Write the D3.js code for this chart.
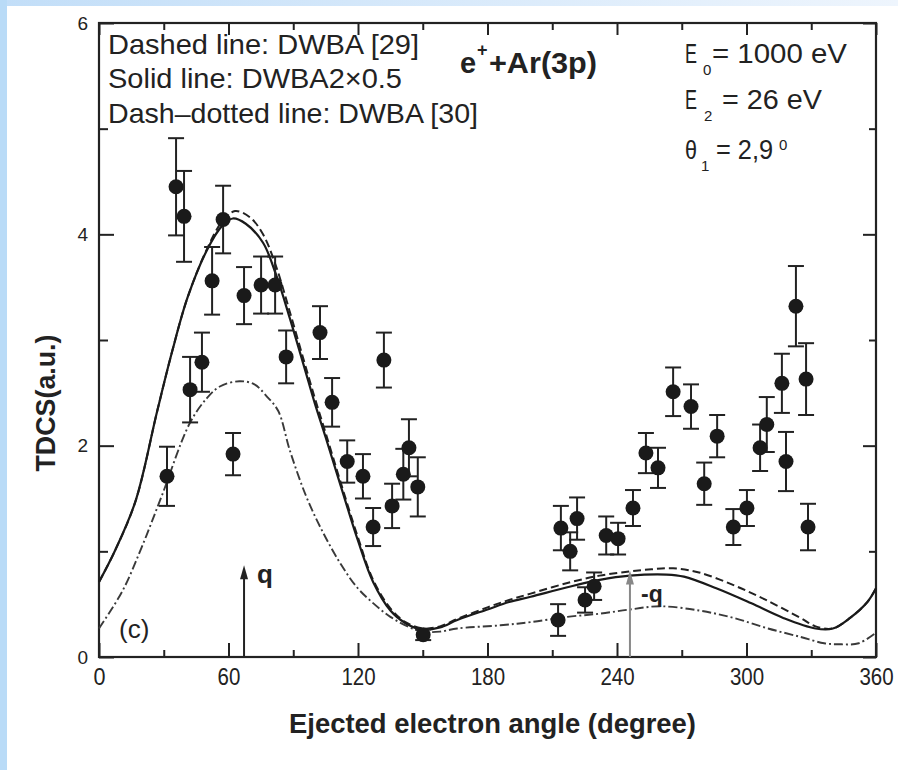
<!DOCTYPE html>
<html><head><meta charset="utf-8">
<script src="https://cdn.jsdelivr.net/npm/d3@7"></script>
<style>
html,body{margin:0;padding:0;background:#fff;}
svg{display:block;}
text{font-family:"Liberation Sans",Arial,Helvetica,sans-serif;fill:#222;}
</style></head><body>
<svg id="chart" width="898" height="770"></svg>
<script>
// Measured TDCS: ejected-electron angle (deg), value (a.u.), error bar half-width
const angles = [31.5, 35.7, 39.4, 42.2, 47.7, 52.4, 57.5, 62.1, 67.2, 75.1, 81.6, 86.7,
  102.4, 108.0, 115.0, 122.3, 127.0, 132.0, 135.8, 141.0, 143.6, 147.7, 150.2,
  212.7, 214.0, 218.3, 221.5, 225.2, 229.4, 235.0, 240.5, 247.4, 253.4, 259.0,
  266.0, 274.3, 280.4, 286.4, 293.9, 300.2, 306.3, 309.4, 316.4, 318.3, 322.9, 327.6, 328.5];
const tdcs = [1.71, 4.45, 4.17, 2.53, 2.79, 3.56, 4.14, 1.92, 3.42, 3.52, 3.52, 2.84,
  3.07, 2.41, 1.85, 1.71, 1.23, 2.81, 1.43, 1.73, 1.98, 1.61, 0.21,
  0.35, 1.22, 1.00, 1.31, 0.54, 0.67, 1.15, 1.12, 1.41, 1.93, 1.79,
  2.51, 2.37, 1.64, 2.09, 1.23, 1.41, 1.98, 2.20, 2.59, 1.85, 3.32, 2.63, 1.23];
const errors = [0.28, 0.46, 0.43, 0.31, 0.28, 0.32, 0.32, 0.20, 0.27, 0.27, 0.27, 0.25,
  0.25, 0.23, 0.20, 0.21, 0.18, 0.26, 0.21, 0.24, 0.27, 0.28, 0.05,
  0.15, 0.21, 0.18, 0.20, 0.12, 0.13, 0.18, 0.15, 0.17, 0.19, 0.19,
  0.23, 0.21, 0.20, 0.20, 0.17, 0.17, 0.22, 0.26, 0.28, 0.28, 0.38, 0.34, 0.22];

// DWBA2 x 0.5 (solid)
const solidAngles = [0, 7.5, 17, 27, 34, 41, 50, 57, 62, 68, 76, 82, 88.5, 95, 100, 105,
  112, 120, 127, 135, 142, 150, 158, 166, 180, 190, 200, 217, 232, 246, 263, 271,
  286, 302, 317, 332, 340, 348, 356, 360];
const solidValues = [0.71, 1.01, 1.48, 2.33, 2.90, 3.40, 3.85, 4.08, 4.15, 4.10, 3.92, 3.62, 3.20, 2.75, 2.40, 2.08,
  1.62, 1.10, 0.71, 0.44, 0.32, 0.26, 0.28, 0.35, 0.45, 0.52, 0.57, 0.66, 0.73, 0.77, 0.78, 0.76,
  0.65, 0.51, 0.37, 0.27, 0.27, 0.37, 0.52, 0.65];

// DWBA [29] (dashed)
const dashedAngles = [0, 7.5, 17, 27, 34, 41, 50, 57, 63, 70, 76, 82, 88.5, 95, 100, 105,
  112, 120, 127, 135, 142, 150, 158, 166, 180, 190, 200, 217, 232, 246, 256, 266, 278,
  294, 309, 325, 332, 340, 348, 356, 360];
const dashedValues = [0.71, 1.01, 1.48, 2.33, 2.90, 3.40, 3.86, 4.12, 4.22, 4.16, 4.00, 3.70, 3.26, 2.80, 2.45, 2.12,
  1.65, 1.13, 0.73, 0.46, 0.33, 0.27, 0.29, 0.36, 0.47, 0.54, 0.60, 0.70, 0.77, 0.81, 0.83, 0.84, 0.80,
  0.68, 0.54, 0.37, 0.29, 0.27, 0.37, 0.52, 0.65];

// DWBA [30] (dash-dotted)
const dashDotAngles = [0, 11, 20, 29, 42, 50, 56, 65, 72, 78, 83, 88.5, 96, 104, 112, 119.5,
  127, 135, 143, 150, 158, 166, 186, 200, 217, 232, 246, 260, 278, 294, 310, 325, 336, 344, 352, 360];
const dashDotValues = [0.27, 0.63, 1.05, 1.52, 2.21, 2.45, 2.56, 2.61, 2.58, 2.46, 2.33, 1.95, 1.52, 1.17, 0.88, 0.66,
  0.51, 0.38, 0.29, 0.24, 0.24, 0.27, 0.30, 0.33, 0.38, 0.41, 0.45, 0.48, 0.44, 0.37, 0.27, 0.19, 0.13, 0.12, 0.13, 0.23];

const xTicks = [0, 60, 120, 180, 240, 300, 360];
const xMinorTicks = [30, 90, 150, 210, 270, 330];
const yTicks = [0, 2, 4, 6];
const yMinorTicks = [1, 3, 5];

// momentum-transfer directions q and -q (deg)
const qAngle = 67.2, qHeight = 0.85;
const minusQAngle = 246, minusQHeight = 0.80;

const svg = d3.select("#chart");
const W = 898, H = 770;
const plotLeft = 99, plotRight = 876, plotTop = 23, plotBottom = 657;

// page frame: pale blue strips on the left and top edges
const defs = svg.append("defs");
const g1 = defs.append("linearGradient").attr("id", "topStrip").attr("x1", 0).attr("x2", 1).attr("y1", 0).attr("y2", 0);
g1.append("stop").attr("offset", 0).attr("stop-color", "#c2def8");
g1.append("stop").attr("offset", 1).attr("stop-color", "#eef5fd");
svg.append("rect").attr("width", W).attr("height", H).attr("fill", "#fff");
svg.append("rect").attr("x", 0).attr("y", 0).attr("width", W).attr("height", 6).attr("fill", "url(#topStrip)");
svg.append("rect").attr("x", 0).attr("y", 0).attr("width", 7).attr("height", H).attr("fill", "#b9dbf7");

const x = d3.scaleLinear().domain([0, 360]).range([plotLeft, plotRight]);
const y = d3.scaleLinear().domain([0, 6]).range([plotBottom, plotTop]);

const ink = "#222";

// axes: ticks point inward on all four sides
function styleAxis(g) {
  g.select(".domain").remove();
  g.selectAll(".tick line").attr("stroke", ink).attr("stroke-width", 2);
}
svg.append("g").attr("transform", `translate(0,${plotBottom})`)
  .call(d3.axisBottom(x).tickValues(xTicks).tickSize(-14).tickPadding(11).tickFormat(d3.format("d")))
  .call(styleAxis)
  .call(g => g.selectAll("text").attr("font-size", 24).attr("fill", ink)
    .attr("textLength", d => String(d).length === 1 ? 12 : String(d).length * 11.4)
    .attr("lengthAdjust", "spacingAndGlyphs"));
svg.append("g").attr("transform", `translate(0,${plotBottom})`)
  .call(d3.axisBottom(x).tickValues(xMinorTicks).tickSize(-7).tickFormat(""))
  .call(styleAxis);
svg.append("g").attr("transform", `translate(0,${plotTop})`)
  .call(d3.axisTop(x).tickValues(xTicks).tickSize(-12).tickFormat(""))
  .call(styleAxis);
svg.append("g").attr("transform", `translate(0,${plotTop})`)
  .call(d3.axisTop(x).tickValues(xMinorTicks).tickSize(-7).tickFormat(""))
  .call(styleAxis);
svg.append("g").attr("transform", `translate(${plotLeft},0)`)
  .call(d3.axisLeft(y).tickValues(yTicks).tickSize(-15).tickPadding(11).tickFormat(d3.format("d")))
  .call(styleAxis)
  .call(g => g.selectAll("text").attr("font-size", 19).attr("fill", ink));
svg.append("g").attr("transform", `translate(${plotLeft},0)`)
  .call(d3.axisLeft(y).tickValues(yMinorTicks).tickSize(-9).tickFormat(""))
  .call(styleAxis);
svg.append("g").attr("transform", `translate(${plotRight},0)`)
  .call(d3.axisRight(y).tickValues(yTicks).tickSize(-13).tickFormat(""))
  .call(styleAxis);
svg.append("g").attr("transform", `translate(${plotRight},0)`)
  .call(d3.axisRight(y).tickValues(yMinorTicks).tickSize(-7).tickFormat(""))
  .call(styleAxis);

// plot frame
svg.append("rect").attr("x", plotLeft).attr("y", plotTop).attr("width", plotRight - plotLeft).attr("height", plotBottom - plotTop)
  .attr("fill", "none").attr("stroke", ink).attr("stroke-width", 2.2);

// theory curves
const line = d3.line().x(d => x(d[0])).y(d => y(d[1])).curve(d3.curveCatmullRom.alpha(0.5));
const plotArea = svg.append("g");
plotArea.append("path").datum(d3.zip(dashDotAngles, dashDotValues)).attr("d", line)
  .attr("fill", "none").attr("stroke", "#3a3a3a").attr("stroke-width", 1.9).attr("stroke-dasharray", "9,3,2,3");
plotArea.append("path").datum(d3.zip(dashedAngles, dashedValues)).attr("d", line)
  .attr("fill", "none").attr("stroke", ink).attr("stroke-width", 2).attr("stroke-dasharray", "8,4");
plotArea.append("path").datum(d3.zip(solidAngles, solidValues)).attr("d", line)
  .attr("fill", "none").attr("stroke", "#1a1a1a").attr("stroke-width", 2.2);

// q and -q arrows
function arrow(angle, h, color) {
  const ax = x(angle), ay = y(h);
  svg.append("line").attr("x1", ax).attr("x2", ax).attr("y1", plotBottom).attr("y2", ay + 6)
    .attr("stroke", color).attr("stroke-width", 2);
  svg.append("path").attr("d", `M${ax},${ay - 2} L${ax - 4},${ay + 12} L${ax + 4},${ay + 12} Z`).attr("fill", color);
}
arrow(qAngle, qHeight, ink);
arrow(minusQAngle, minusQHeight, "#888");

// experimental points with error bars
const pts = d3.range(angles.length).map(i => ({a: angles[i], v: tdcs[i], e: errors[i]}));
const eb = svg.append("g").attr("stroke", ink).attr("stroke-width", 2);
pts.forEach(p => {
  const px = x(p.a);
  eb.append("line").attr("x1", px).attr("x2", px).attr("y1", y(p.v - p.e)).attr("y2", y(p.v + p.e));
  [p.v - p.e, p.v + p.e].forEach(v =>
    eb.append("line").attr("x1", px - 8).attr("x2", px + 8).attr("y1", y(v)).attr("y2", y(v)));
});
svg.append("g").selectAll("circle").data(pts).join("circle")
  .attr("cx", d => x(d.a)).attr("cy", d => y(d.v)).attr("r", 7.5).attr("fill", "#1a1a1a");

// labels
svg.append("text").attr("x", 257).attr("y", 583).attr("font-size", 26).attr("font-weight", "bold").text("q");
svg.append("text").attr("x", 641).attr("y", 602).attr("font-size", 23).attr("font-weight", "bold").text("-q");
svg.append("text").attr("x", 119).attr("y", 638).attr("font-size", 26).text("(c)");

const legendLines = ["Dashed line: DWBA [29]", "Solid line: DWBA2\u00d70.5", "Dash\u2013dotted line: DWBA [30]"];
const legendWidths = [311, 294, 370];
const legendBase = [54, 88, 123];
legendLines.forEach((t, i) => {
  svg.append("text").attr("x", 108).attr("y", legendBase[i]).attr("font-size", 28)
    .attr("textLength", legendWidths[i]).attr("lengthAdjust", "spacingAndGlyphs").text(t);
});

// reaction label
svg.append("text").attr("x", 460).attr("y", 73).attr("font-size", 29).attr("font-weight", "bold").text("e");
svg.append("text").attr("x", 477).attr("y", 56).attr("font-size", 18).attr("font-weight", "bold").text("+");
svg.append("text").attr("x", 489).attr("y", 73).attr("font-size", 29).attr("font-weight", "bold")
  .attr("textLength", 108).attr("lengthAdjust", "spacingAndGlyphs").text("+Ar(3p)");

// kinematics
const kin = svg.append("g");
function narrow(sel, w) { return sel.attr("textLength", w).attr("lengthAdjust", "spacingAndGlyphs"); }
narrow(kin.append("text").attr("x", 685).attr("y", 63).attr("font-size", 28).text("E"), 12);
kin.append("text").attr("x", 703).attr("y", 75).attr("font-size", 15).text("0");
narrow(kin.append("text").attr("x", 712).attr("y", 63).attr("font-size", 28).text("= 1000 eV"), 135);
narrow(kin.append("text").attr("x", 685).attr("y", 109).attr("font-size", 28).text("E"), 12);
kin.append("text").attr("x", 704).attr("y", 121).attr("font-size", 15).text("2");
narrow(kin.append("text").attr("x", 722).attr("y", 109).attr("font-size", 28).text("= 26 eV"), 100);
narrow(kin.append("text").attr("x", 685).attr("y", 159).attr("font-size", 26).text("\u03b8"), 12);
kin.append("text").attr("x", 701).attr("y", 171).attr("font-size", 15).text("1");
narrow(kin.append("text").attr("x", 716).attr("y", 159).attr("font-size", 28).text("= 2,9"), 57);
kin.append("text").attr("x", 779).attr("y", 150).attr("font-size", 15).text("0");

// axis titles
svg.append("text").attr("x", 492.5).attr("y", 733).attr("text-anchor", "middle")
  .attr("font-size", 27).attr("font-weight", "bold")
  .attr("textLength", 407).attr("lengthAdjust", "spacingAndGlyphs")
  .text("Ejected electron angle (degree)");
svg.append("text").attr("transform", "translate(55,403) rotate(-90)").attr("text-anchor", "middle")
  .attr("font-size", 28).attr("font-weight", "bold")
  .attr("textLength", 137).attr("lengthAdjust", "spacingAndGlyphs")
  .text("TDCS(a.u.)");
</script>
</body></html>
